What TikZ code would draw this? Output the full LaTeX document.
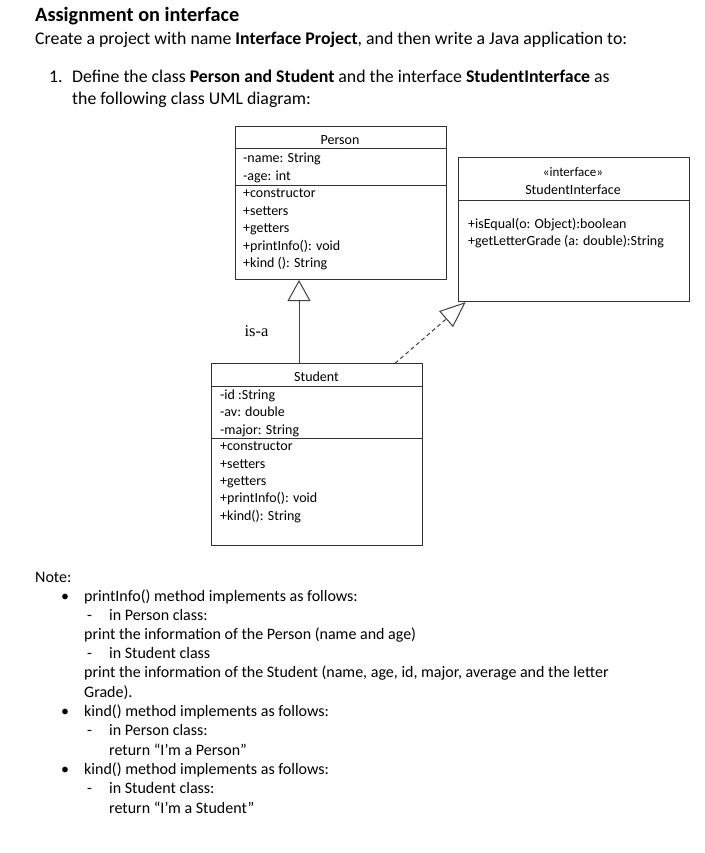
\documentclass[tikz,border=0pt]{standalone}
\usepackage{fontspec}
\setmainfont{Carlito}
\newfontfamily\seriffont{Liberation Serif}
\usetikzlibrary{arrows.meta,calc}
\begin{document}
\begin{tikzpicture}[x=1pt,y=-1pt,
  hdr/.style={anchor=base west,inner sep=0pt,font=\fontsize{17.8}{20}\selectfont},
  txt/.style={anchor=base west,inner sep=0pt,font=\fontsize{16}{18}\selectfont},
  uml/.style={anchor=base west,inner sep=0pt,font=\fontsize{14}{16}\selectfont},
  umlc/.style={anchor=base,inner sep=0pt,font=\fontsize{14}{16}\selectfont},
  box/.style={draw=black!80,line width=1pt,anchor=north west,inner sep=0pt},
  sep/.style={draw=black!80,line width=1pt},
  conn/.style={draw=black!75,line width=1pt}]
\useasboundingbox[fill=white] (0,0) rectangle (704,853);
% header
\node[anchor=base west,inner sep=0pt,font=\fontsize{20.3}{22}\selectfont\bfseries] (title) at (35,22) {Assignment on interface};
\node[hdr] (l1) at (35,45) {Create a project with name \textbf{Interface Project}, and then write a Java application to:};
\node[hdr] (n1) at (49,83) {1.};
\node[hdr] (l2) at (72,83) {Define the class \textbf{Person and Student} and the interface \textbf{StudentInterface} as};
\node[hdr] (l3) at (72,105) {the following class UML diagram:};
% Person
\node[box,minimum width=211pt,minimum height=152.5pt] (person) at (234.5,126.5) {};
\draw[sep] ($(person.north west)+(0,22.5)$) -- ($(person.north east)+(0,22.5)$);
\draw[sep] ($(person.north west)+(0,59)$) -- ($(person.north east)+(0,59)$);
\node[umlc] (pt) at (340,145) {Person};
\node[uml] (p1) at (243,162.5) {-name: String};
\node[uml] (p2) at (243,180) {-age: int};
\node[uml] (p3) at (243,197) {+constructor};
\node[uml] (p4) at (243,215) {+setters};
\node[uml] (p5) at (243,232.5) {+getters};
\node[uml] (p6) at (243,250) {+printInfo(): void};
\node[uml] (p7) at (243,267.5) {+kind (): String};
% Interface
\node[box,minimum width=231.5pt,minimum height=143.5pt] (iface) at (457.5,157.3) {};
\draw[sep] ($(iface.north west)+(0,43.5)$) -- ($(iface.north east)+(0,43.5)$);
\node[anchor=base,inner sep=0pt,font=\fontsize{13}{14}\selectfont] (it1) at (573,176.5) {\guillemotleft interface\guillemotright};
\node[umlc] (it2) at (573,194) {StudentInterface};
\node[uml] (i1) at (468,228.3) {+isEqual(o: Object):boolean};
\node[uml] (i2) at (468,245.7) {+getLetterGrade (a: double):String};
% Student
\node[box,minimum width=211.3pt,minimum height=181.7pt] (student) at (211,363.3) {};
\draw[sep] ($(student.north west)+(0,22.7)$) -- ($(student.north east)+(0,22.7)$);
\draw[sep] ($(student.north west)+(0,75)$) -- ($(student.north east)+(0,75)$);
\node[umlc] (st) at (316.5,381.5) {Student};
\node[uml] (s1) at (220,399.3) {-id :String};
\node[uml] (s2) at (220,416.7) {-av: double};
\node[uml] (s3) at (220,434) {-major: String};
\node[uml] (s4) at (220,450.7) {+constructor};
\node[uml] (s5) at (220,468.3) {+setters};
\node[uml] (s6) at (220,485.7) {+getters};
\node[uml] (s7) at (220,502.7) {+printInfo(): void};
\node[uml] (s8) at (220,520) {+kind(): String};
% connectors
\draw[conn,-{Triangle[open,length=21pt,width=23pt]}] ($(student.north west)+(88,0)$) -- ($(person.south west)+(64.5,0)$);
\node[anchor=base west,inner sep=0pt,font=\seriffont\fontsize{16.5}{18}\selectfont] (isa) at (244.3,336) {is-a};
\draw[conn,dash pattern=on 4pt off 3pt,-{Triangle[open,length=26pt,width=21pt]}] ($(student.north west)+(184,0)$) -- ($(iface.south west)+(8.2,0.3)$);
% notes
\node[txt] (note) at (35,582) {Note:};
\node[txt] (b1) at (61,601) {\textbullet};
\node[txt] (t1) at (84,601) {printInfo() method implements as follows:};
\node[txt] (d1) at (87,620) {-};
\node[txt] (t2) at (109,620) {in Person class:};
\node[txt] (t3) at (84,639) {print the information of the Person (name and age)};
\node[txt] (d2) at (87,658) {-};
\node[txt] (t4) at (109,658) {in Student class};
\node[txt] (t5) at (84,677.5) {print the information of the Student (name, age, id, major, average and the letter};
\node[txt] (t6) at (84,697) {Grade).};
\node[txt] (b2) at (61,716.5) {\textbullet};
\node[txt] (t7) at (84,716.5) {kind() method implements as follows:};
\node[txt] (d3) at (87,735.5) {-};
\node[txt] (t8) at (109,735.5) {in Person class:};
\node[txt] (t9) at (109,755) {return “I'm a Person”};
\node[txt] (b3) at (61,774) {\textbullet};
\node[txt] (t10) at (84,774) {kind() method implements as follows:};
\node[txt] (d4) at (87,793.5) {-};
\node[txt] (t11) at (109,793.5) {in Student class:};
\node[txt] (t12) at (109,813) {return “I'm a Student”};
\end{tikzpicture}
\end{document}
